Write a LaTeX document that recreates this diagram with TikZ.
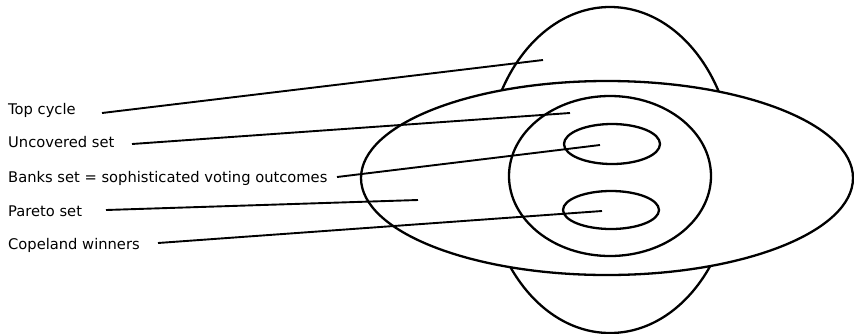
\documentclass[tikz,border=0pt]{standalone}
\usepackage{fontspec}
\setmainfont{DejaVu Sans}
\begin{document}
\begin{tikzpicture}[x=1pt,y=-1pt,
  lbl/.style={anchor=base west, inner sep=0pt, font=\fontsize{14.7}{16}\selectfont},
  setline/.style={line width=2.3pt},
  lead/.style={line width=1.9pt}]
\useasboundingbox (0,0) rectangle (854,333);
% sets
\draw[setline] (610,170) ellipse [x radius=124, y radius=163];
\draw[setline, fill=white] (607,178) ellipse [x radius=246, y radius=97];
\draw[setline] (610,176) ellipse [x radius=101, y radius=80];
\draw[setline] (612,144) ellipse [x radius=48, y radius=20];
\draw[setline] (611,210) ellipse [x radius=48, y radius=19];
% labels
\node[lbl] (top) at (8,114) {Top cycle};
\node[lbl] (unc) at (8,147) {Uncovered set};
\node[lbl] (banks) at (8,182) {Banks set = sophisticated voting outcomes};
\node[lbl] (par) at (8,216) {Pareto set};
\node[lbl] (cop) at (8,249) {Copeland winners};
% leader ends
\coordinate (topS) at (102,113);  \coordinate (topE) at (543,60);
\coordinate (uncS) at (132,144);  \coordinate (uncE) at (570,113);
\coordinate (banS) at (337,177);  \coordinate (banE) at (600,145);
\coordinate (parS) at (106,210);  \coordinate (parE) at (418,200);
\coordinate (copS) at (158,243);  \coordinate (copE) at (602,211);
\draw[lead] (topS) -- (topE);
\draw[lead] (uncS) -- (uncE);
\draw[lead] (banS) -- (banE);
\draw[lead] (parS) -- (parE);
\draw[lead] (copS) -- (copE);
\end{tikzpicture}
\end{document}
